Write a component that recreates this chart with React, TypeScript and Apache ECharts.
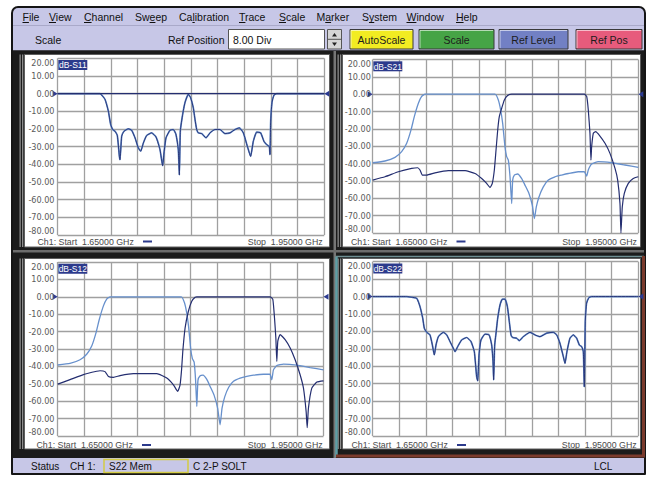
import React, { useEffect, useRef } from 'react';
import * as echarts from 'echarts';

// ---------------- data ----------------
const FREQ_START_MHZ = 1650;
const FREQ_STOP_MHZ = 1950;
const FREQ_STEP_MHZ = 30;
const DB_MIN = -80;
const DB_MAX = 20;
const DB_STEP = 10;

const traceTitles = ['dB-S11', 'dB-S21', 'dB-S12', 'dB-S22'];
const startLabel = 'Ch1: Start  1.65000 GHz';
const stopLabel = 'Stop  1.95000 GHz';

// [MHz, dB]
const s11 = [
  [1650, 0], [1697.6, 0], [1699.5, -0.8], [1703.2, -3.2], [1707, -9.9], [1709.6, -17.5], [1711.9, -20.3],
  [1714.5, -21.3], [1717.1, -23.7], [1719.4, -35.5], [1720.1, -37.4], [1722, -24.1], [1724.6, -21.3],
  [1729.5, -19.9], [1733.2, -20.7], [1737, -25], [1740.7, -30.7], [1743.4, -32.6], [1746.4, -27.9],
  [1750.1, -23.7], [1755.7, -22.2], [1760.6, -24.5], [1765.1, -31.7], [1768.1, -40.8], [1769.6, -33.6],
  [1771.9, -25], [1776.4, -20.7], [1780.1, -20.3], [1783.1, -23.1], [1785.7, -31.7], [1786.9, -46],
  [1788, -21.1], [1790.6, -11.8], [1793.2, -5.1], [1797, -0.4], [1799.6, -2.3], [1802.6, -8],
  [1804.5, -14.6], [1806.4, -20.3], [1808.2, -22.2], [1812, -22.6], [1816.9, -25], [1821.4, -22.2],
  [1827, -20.3], [1832.6, -20.3], [1838.2, -22.6], [1843.9, -22.2], [1849.5, -20.3], [1854.4, -19.4],
  [1858.9, -22.2], [1863.4, -29.8], [1867.1, -35.5], [1870.1, -27], [1873.9, -21.8], [1878.4, -22.2],
  [1882.1, -27], [1885.1, -28.8], [1888.1, -30], [1888.9, -34.5], [1889.6, -16.5], [1891.1, -5.1],
  [1893.4, -0.8], [1896.4, 0], [1950, 0],
];
const s11Reference = [[1650, 0], [1950, 0]];

const s21Low = [
  [1650, -39.5], [1663.9, -38.5], [1675.2, -36.4], [1682.7, -33.1], [1688.4, -28.3], [1693.3, -20.6],
  [1697, -12.9], [1701.6, -5.2], [1705.3, -1.3], [1709.1, 0], [1788.1, 0], [1791.9, -3.3], [1794.5, -9],
  [1796.8, -16.8], [1799.4, -30.3], [1801.3, -36], [1803.2, -38], [1805.1, -47.6], [1807, -63],
  [1808.1, -49.5], [1810, -46.6], [1813.7, -46], [1818.3, -48.6], [1822, -52.4], [1826.5, -57.2],
  [1830.3, -64], [1832.6, -71.7], [1834.8, -65], [1837.8, -59.2], [1842.7, -53.4], [1848.4, -49.5],
  [1855.9, -47.6], [1863.4, -46.6], [1871, -45.7], [1882.2, -44.7], [1889, -44.7], [1891.7, -47.2],
  [1893.5, -43.7], [1897.3, -40.3], [1904.8, -38.9], [1919.9, -39.5], [1934.9, -40.8], [1950, -42.2],
];
const s21High = [
  [1650, -49.5], [1663.9, -47.6], [1679, -44.7], [1694, -42.8], [1700.8, -42.4], [1703.4, -43.7],
  [1706.1, -46.6], [1711, -46.6], [1720.4, -45.3], [1735.4, -44.1], [1754.3, -44.1], [1765.6, -45.7],
  [1773.1, -48.6], [1778.7, -51.4], [1782.5, -53.8], [1785.1, -51.4], [1787.4, -43.7], [1789.3, -32.2],
  [1791.2, -20.6], [1793, -12.9], [1795.7, -8.1], [1798.7, -3.3], [1802.4, -0.8], [1807, 0], [1889, 0],
  [1891.7, -1.3], [1893.5, -9], [1895.4, -22.5], [1896.5, -38], [1897.3, -30.3], [1899.2, -22.5],
  [1901.8, -21.6], [1906.7, -24.1], [1912.4, -28.3], [1918, -34.1], [1923.7, -42.8], [1926.7, -49.5],
  [1929.3, -63], [1930.4, -80], [1931.9, -65], [1934.2, -57.2], [1938.7, -51.4], [1944.3, -48.6], [1950, -47.6],
];

const s12Low = [
  [1650, -39.2], [1663.9, -38.3], [1675.2, -36.2], [1682.7, -33], [1688.4, -28.3], [1693.3, -20.6],
  [1697, -12.9], [1701.6, -5.2], [1705.3, -1.3], [1709.1, 0], [1789.5, 0], [1793, -3.3], [1795.5, -9],
  [1797.7, -17], [1800.2, -30.3], [1802, -35.5], [1804, -37.5], [1805.6, -47.6], [1807, -63],
  [1808.3, -48], [1810.5, -45.5], [1814, -45], [1818.3, -47.5], [1822, -51.5], [1826.5, -56.5],
  [1830.5, -64], [1833.3, -73.6], [1835.5, -64], [1838.5, -57.5], [1843, -52], [1848.4, -48.5],
  [1855.9, -46.7], [1863.4, -45.7], [1871, -45], [1882.2, -44.5], [1889.5, -44.5], [1891.6, -47.7],
  [1893.5, -42], [1897.3, -39.5], [1904.8, -38.7], [1919.9, -39.3], [1934.9, -40.7], [1950, -42],
];
const s12High = [
  [1650, -50.2], [1663.9, -47.6], [1679, -44.7], [1694, -42.8], [1697.8, -42.5], [1703.4, -43],
  [1707.2, -45.8], [1712.9, -46.3], [1720.4, -45.3], [1735.4, -44.2], [1761.8, -44.2], [1773.1, -46.7],
  [1780.6, -50.6], [1785.5, -54.4], [1788.1, -50.6], [1789.8, -42], [1791.2, -31.3], [1793.8, -17.9],
  [1797.5, -8.3], [1801.3, -2.5], [1805.1, -0.3], [1807, 0], [1889.8, 0], [1892.8, -1.5], [1894.7, -12.1],
  [1896.2, -23.5], [1897.3, -37.1], [1898.4, -25.6], [1901, -21.7], [1906.7, -24.6], [1912.4, -29.4],
  [1918, -36.2], [1923.6, -44.8], [1927.4, -52.5], [1930.4, -66], [1931.6, -75.2], [1933, -64],
  [1936.8, -52.5], [1942.5, -49], [1950, -48.3],
];

const s22 = [
  [1650, 0], [1688.4, 0], [1694, -0.4], [1699.7, -1], [1703.4, -5.7], [1706.5, -12.4], [1708.3, -18.2],
  [1711, -20.5], [1714.7, -22], [1717.4, -27.8], [1719.6, -33.5], [1721.5, -27.8], [1724.2, -23],
  [1729.8, -20.5], [1733.6, -22], [1737.3, -25.8], [1741.1, -29.7], [1743, -31.6], [1746, -28.7],
  [1750.5, -24.9], [1756.1, -23.5], [1761, -25.8], [1764.8, -31.6], [1767.4, -46], [1768.6, -48.4],
  [1770.1, -33.5], [1772.3, -24.9], [1776.8, -21.6], [1781.4, -22], [1784.4, -27.8], [1785.9, -37.3],
  [1786.6, -47.8], [1787.8, -27.8], [1789.3, -21], [1791.2, -12.4], [1793.8, -4.8], [1796.5, -1.5],
  [1799.4, -1.5], [1802.1, -5.7], [1804.3, -14.4], [1806.2, -22], [1808.1, -23.5], [1812.6, -23.9],
  [1815.6, -25.3], [1820.1, -23], [1827.7, -20.5], [1833.3, -22], [1839, -23], [1846.5, -21], [1854, -20.5],
  [1857.8, -22], [1861.5, -26.8], [1865.3, -34.4], [1867.2, -38.3], [1869.4, -31.6], [1872.8, -23.9],
  [1876.6, -22], [1880.4, -23.9], [1883.4, -27.8], [1886, -28.7], [1887.9, -31.6], [1889, -51.7],
  [1890.1, -14.4], [1891.6, -3.8], [1894.3, -0.6], [1897.3, 0], [1950, 0],
];

const menuLabels = ['File', 'View', 'Channel', 'Sweep', 'Calibration', 'Trace', 'Scale', 'Marker', 'System', 'Window', 'Help'];
const menuHotkeyIndex = [0, 0, 0, 2, 2, 0, 0, 1, 1, 0, 0];
const toolbarScaleLabel = 'Scale';
const refPositionLabel = 'Ref Position';
const refPositionValue = '8.00 Div';
const buttonLabels = ['AutoScale', 'Scale', 'Ref Level', 'Ref Pos'];
const statusLabels = { status: 'Status', channel: 'CH 1:', mem: 'S22 Mem', cal: 'C 2-P SOLT', lcl: 'LCL' };

// ---------------- layout / style ----------------
const LAV = '#c7c7e7';
const GRIDLINE = '#a0a0a0';
const NAVY = '#242e70';
const LIGHT = '#6790cc';
const FONT = '"Liberation Sans", Arial, sans-serif';
const NARROW = '"Liberation Sans Narrow", "DejaVu Sans Condensed", "Liberation Sans", sans-serif';

const menuX = [22.5, 49, 84, 135, 179, 239, 279, 316.5, 362, 406.5, 456];

const panels = [
  { gx: 57.7, gy: 58.3, gw: 266.6, gh: 176.7, px: 24.5, py: 54.5, pw: 305, ph: 192.5, tx: 37.5, ty: 241.5, sx: 322.7, lm: 3.2 },
  { gx: 372.7, gy: 59.5, gw: 265.6, gh: 173.5, px: 342.5, py: 54.5, pw: 298, ph: 192.5, tx: 351, ty: 241.5, sx: 637, lm: 1.8 },
  { gx: 57.7, gy: 262, gw: 265.8, gh: 174, px: 24.5, py: 258.5, pw: 305, ph: 190.5, tx: 36.5, ty: 445, sx: 322.7, lm: 3.2 },
  { gx: 372.7, gy: 261.7, gw: 265.6, gh: 174.3, px: 342.5, py: 258.5, pw: 298, ph: 190.5, tx: 351.5, ty: 445, sx: 636.7, lm: 1.8 },
];

function txt(x: number, y: number, text: string, o: any = {}) {
  const align = o.align || 'left';
  return {
    type: 'text', x, y, z: o.z ?? 100, silent: true,
    style: {
      text, fill: o.fill || '#111', font: o.font || `10px ${FONT}`,
      align, verticalAlign: 'middle', textAlign: align, textVerticalAlign: 'middle',
    },
  };
}
function rect(x: number, y: number, w: number, h: number, style: any, z = 1, r?: any) {
  return { type: 'rect', z, silent: true, shape: { x, y, width: w, height: h, r: r ?? 0 }, style };
}
function line(x1: number, y1: number, x2: number, y2: number, stroke: string, lineWidth = 1, z = 2) {
  return { type: 'line', z, silent: true, shape: { x1, y1, x2, y2 }, style: { stroke, lineWidth } };
}

const arrowMarks = {
  silent: true,
  symbol: 'triangle',
  symbolSize: [6, 5],
  itemStyle: { color: '#2b3a90' },
  label: { show: false },
  data: [
    { coord: [FREQ_START_MHZ, 0], symbolRotate: -90, symbolOffset: [-2.5, 0] },
    { coord: [FREQ_STOP_MHZ, 0], symbolRotate: 90, symbolOffset: [2.5, 0] },
  ],
};

function lineSeries(idx: number, data: number[][], color: string, width: number, extra: any = {}) {
  return {
    type: 'line', xAxisIndex: idx, yAxisIndex: idx, data, showSymbol: false, symbol: 'none',
    smooth: 0.15, silent: true, z: 10, lineStyle: { color, width }, ...extra,
  };
}

export default function App() {
  const ref = useRef<HTMLDivElement>(null);
  useEffect(() => {
    const chart = echarts.init(ref.current!, null, { renderer: 'svg' });
    const ctx = document.createElement('canvas').getContext('2d')!;
    const menuFont = `10.5px ${FONT}`;
    ctx.font = menuFont;

    const g: any[] = [];
    // outer frame
    g.push(rect(11, 6, 635, 469, { fill: '#151515' }, 0, [7, 7, 1, 1]));
    g.push(rect(13, 8, 631, 17, { fill: LAV }, 1, [5, 5, 0, 0]));
    g.push(line(13, 25.5, 644, 25.5, '#a9a9c9', 1, 2));
    g.push(rect(13, 26, 631, 24.5, { fill: LAV }, 1));
    g.push(rect(13, 50.5, 631, 407.5, { fill: '#1b1b1b' }, 1));
    g.push(rect(13, 458, 631, 15, { fill: LAV }, 1));
    // separators
    g.push(rect(333.5, 51, 2.5, 407, { fill: '#767676' }, 2));
    g.push(rect(13, 250, 631, 2.5, { fill: '#6c6c6c' }, 2));

    // menu
    menuLabels.forEach((m, i) => {
      g.push(txt(menuX[i], 17, m, { font: menuFont }));
      const k = menuHotkeyIndex[i];
      const ux = menuX[i] + ctx.measureText(m.slice(0, k)).width;
      const uw = ctx.measureText(m[k]).width;
      g.push(line(ux, 22.5, ux + uw, 22.5, '#111', 1, 100));
    });

    // toolbar
    const tbFont = `10.5px ${FONT}`;
    g.push(txt(35, 39.5, toolbarScaleLabel, { font: tbFont }));
    g.push(txt(224.5, 39.5, refPositionLabel, { font: tbFont, align: 'right' }));
    g.push(rect(228.5, 29.5, 96, 19.5, { fill: '#fff', stroke: '#555', lineWidth: 1 }, 3));
    g.push(txt(233, 39.5, refPositionValue, { font: tbFont }));
    g.push(rect(327.5, 29.5, 14, 19.5, { fill: '#d6d6d6', stroke: '#555', lineWidth: 1 }, 3));
    g.push(line(327.5, 39.3, 341.5, 39.3, '#555', 1, 4));
    g.push({ type: 'polygon', z: 5, silent: true, shape: { points: [[332, 36.5], [337, 36.5], [334.5, 33]] }, style: { fill: '#222' } });
    g.push({ type: 'polygon', z: 5, silent: true, shape: { points: [[332, 42.5], [337, 42.5], [334.5, 46]] }, style: { fill: '#222' } });
    const btns = [
      { x: 350, w: 63, fill: '#f2ec22' },
      { x: 419, w: 75, fill: '#46a446' },
      { x: 499, w: 69, fill: '#7280c4' },
      { x: 576, w: 66, fill: '#e75b7c' },
    ];
    btns.forEach((b, i) => {
      g.push(rect(b.x, 29.5, b.w, 19.5, { fill: b.fill, stroke: '#3a3a3a', lineWidth: 1 }, 3));
      g.push(line(b.x + 1, 30.5, b.x + b.w - 1, 30.5, 'rgba(255,255,255,0.6)', 1, 4));
      g.push(line(b.x + 1, 30.5, b.x + 1, 48, 'rgba(255,255,255,0.6)', 1, 4));
      g.push(txt(b.x + b.w / 2, 39.5, buttonLabels[i], { font: tbFont, align: 'center', fill: '#1c1c1c' }));
    });

    // panels
    panels.forEach((p, i) => {
      g.push(rect(p.px - 5, p.py, 1.3, p.ph, { fill: '#8c8c8c' }, 3));
      g.push(rect(p.px - 2.5, p.py, 1.3, p.ph, { fill: '#8c8c8c' }, 3));
      g.push(rect(p.px, p.py, p.pw, p.ph, { fill: '#ffffff', stroke: '#5e5e5e', lineWidth: 1 }, 3));
      g.push(rect(p.gx + 0.6, p.gy + 1.8, 29, 10, { fill: '#2c3a8c' }, 100));
      g.push(txt(p.gx + 15.1, p.gy + 7, traceTitles[i], { font: `8.5px ${FONT}`, fill: '#ffffff', align: 'center', z: 101 }));
      g.push(txt(p.tx, p.ty, startLabel, { font: `8.8px ${FONT}`, fill: '#4a4a4a' }));
      g.push(rect(p.tx + 105.5, p.ty - 1, 9, 2, { fill: '#2c3a8c' }, 100));
      g.push(txt(p.sx, p.ty, stopLabel, { font: `8.8px ${FONT}`, fill: '#4a4a4a', align: 'right' }));
    });
    // active panel (S22) border
    g.push(line(336.5, 256.5, 336.5, 457, '#5e9ea6', 2.5, 4));
    g.push(line(336, 256.5, 644, 256.5, '#6e8e92', 1.5, 4));
    g.push(line(643.5, 256, 643.5, 457, '#7a3a2c', 3, 4));
    g.push(line(336, 456, 645, 456, '#7a3a2c', 3, 4));

    // status bar
    const stFont = `10px ${FONT}`;
    g.push(txt(31, 466, statusLabels.status, { font: stFont }));
    g.push(txt(70, 466, statusLabels.channel, { font: stFont }));
    g.push(rect(104, 459.5, 84, 13, { fill: 'none', stroke: '#d4cc44', lineWidth: 1.5 }, 3));
    g.push(txt(109, 466, statusLabels.mem, { font: stFont }));
    g.push(txt(193, 466, statusLabels.cal, { font: stFont }));
    g.push(txt(594, 466, statusLabels.lcl, { font: stFont }));

    const splitLine = { show: true, lineStyle: { color: GRIDLINE, width: 1.3 } };
    const option: any = {
      animation: false,
      backgroundColor: '#ffffff',
      grid: panels.map((p) => ({ left: p.gx, top: p.gy, width: p.gw, height: p.gh, show: false, containLabel: false })),
      xAxis: panels.map((p, i) => ({
        type: 'value', gridIndex: i, min: FREQ_START_MHZ, max: FREQ_STOP_MHZ, interval: FREQ_STEP_MHZ,
        axisLabel: { show: false }, axisTick: { show: false }, axisLine: { show: false }, splitLine, z: 5,
      })),
      yAxis: panels.map((p, i) => ({
        type: 'value', gridIndex: i, min: DB_MIN, max: DB_MAX, interval: DB_STEP,
        axisTick: { show: false }, axisLine: { show: false }, splitLine, z: 5,
        axisLabel: {
          formatter: (v: number) => v.toFixed(2), color: '#5a5a5a', fontSize: 9, fontFamily: NARROW,
          margin: p.lm, verticalAlignMinLabel: 'bottom', verticalAlignMaxLabel: 'top',
        },
      })),
      series: [
        lineSeries(0, s11, LIGHT, 1.7),
        lineSeries(0, s11, NAVY, 0.9),
        lineSeries(0, s11Reference, NAVY, 1.2, { smooth: false, markPoint: arrowMarks }),
        lineSeries(1, s21Low, LIGHT, 1.3, { markPoint: arrowMarks }),
        lineSeries(1, s21High, NAVY, 1.2),
        lineSeries(2, s12Low, LIGHT, 1.3, { markPoint: arrowMarks }),
        lineSeries(2, s12High, NAVY, 1.2),
        lineSeries(3, s22, LIGHT, 1.7, { markPoint: arrowMarks }),
        lineSeries(3, s22, NAVY, 0.9),
      ],
      graphic: { elements: g },
    };
    chart.setOption(option);
    return () => chart.dispose();
  }, []);
  return <div ref={ref} style={{ position: 'fixed', left: 0, top: 0, width: 651, height: 479, background: '#fff' }} />;
}
